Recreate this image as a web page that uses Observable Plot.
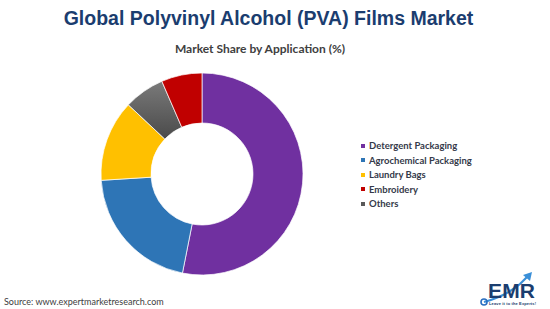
<!DOCTYPE html>
<html>
<head>
<meta charset="utf-8">
<script src="https://cdn.jsdelivr.net/npm/d3@7"></script>
<script src="https://cdn.jsdelivr.net/npm/@observablehq/plot@0.6"></script>
<style>
  html, body { margin: 0; padding: 0; background: #fff; }
  #page { position: relative; width: 550px; height: 309px; overflow: hidden; background: #fff; }
  #title { position: absolute; left: 0; width: 537px; top: 7px; text-align: center;
           font-family: "Liberation Sans", Arial, sans-serif; font-weight: bold; font-size: 19.5px; color: #1B3D6F; }
  #subtitle { position: absolute; left: 0; width: 520px; top: 41px; text-align: center;
           font-family: Lato, "Open Sans", sans-serif; font-weight: bold; font-size: 12px; color: #404040; }
  #chart { position: absolute; left: 86.5px; top: 58.5px; }
  #legend { position: absolute; left: 361px; top: 139px; font-family: Lato, "Open Sans", sans-serif;
            font-weight: bold; font-size: 9.5px; color: #353a4a; }
  .li { height: 14.5px; line-height: 14.5px; white-space: nowrap; }
  .sw { display: inline-block; width: 4px; height: 4px; margin-right: 4px; vertical-align: middle; position: relative; top: -1px; }
  #source { position: absolute; left: 4px; top: 296px; font-family: Lato, "Open Sans", sans-serif;
            font-size: 9px; color: #404040; }
  #logo { position: absolute; left: 476px; top: 270px; }
</style>
</head>
<body>
<div id="page">
  <div id="title">Global Polyvinyl Alcohol (PVA) Films Market</div>
  <div id="subtitle">Market Share by Application (%)</div>
  <div id="chart"></div>
  <div id="legend"></div>
  <div id="source">Source: www.expertmarketresearch.com</div>
  <div id="logo"></div>
</div>
<script>
// ---- data ----
const categories = ["Detergent Packaging", "Agrochemical Packaging", "Laundry Bags", "Others", "Embroidery"];
const shares = [53.1, 20.9, 13.0, 6.5, 6.5];
const colors = ["#7030A0", "#2E75B6", "#FFC000", "url(#greyGrad)", "#C00000"];
const legendOrder = ["Detergent Packaging", "Agrochemical Packaging", "Laundry Bags", "Embroidery", "Others"];
const legendColors = ["#7030A0", "#2E75B6", "#FFC000", "#C00000", "#595959"];

const slices = categories.map((c, i) => ({category: c, share: shares[i], color: colors[i]}));
const arcs = d3.pie().sort(null).value(d => d.share)(slices);

const outerR = 101, innerR = 51;

const chart = Plot.plot({
  width: 230,
  height: 230,
  margin: 0,
  x: {domain: [-115, 115], axis: null},
  y: {domain: [-115, 115], axis: null},
  marks: [
    Plot.dot(arcs, {
      x: () => 0,
      y: () => 0,
      render: (index, scales, values) => {
        const cx = values.x[index[0]], cy = values.y[index[0]];
        const ro = Math.abs(scales.x(outerR) - scales.x(0));
        const ri = Math.abs(scales.x(innerR) - scales.x(0));
        const arc = d3.arc().innerRadius(ri).outerRadius(ro);
        const g = d3.create("svg:g");
        const defs = g.append("defs");
        const lg = defs.append("linearGradient").attr("id", "greyGrad")
          .attr("x1", 0).attr("y1", 0).attr("x2", 0).attr("y2", 1);
        lg.append("stop").attr("offset", "0%").attr("stop-color", "#7a7a7a");
        lg.append("stop").attr("offset", "100%").attr("stop-color", "#4a4a4a");
        const p = g.append("g").attr("transform", `translate(${cx},${cy})`);
        p.selectAll("path").data(Array.from(index, i => arcs[i])).join("path")
          .attr("d", arc)
          .attr("fill", d => d.data.color)
          .attr("stroke", "#ffffff")
          .attr("stroke-width", 0.7);
        return g.node();
      }
    })
  ]
});
document.getElementById("chart").appendChild(chart);

// legend
const legend = document.getElementById("legend");
legendOrder.forEach((c, i) => {
  const row = document.createElement("div");
  row.className = "li";
  const sw = document.createElement("span");
  sw.className = "sw";
  sw.style.background = legendColors[i];
  row.appendChild(sw);
  row.appendChild(document.createTextNode(c));
  legend.appendChild(row);
});

// logo
const logo = d3.select("#logo").append("svg").attr("width", 74).attr("height", 39);
logo.append("path").attr("d", "M8 32 Q30 26 44 14 L52 6").attr("fill", "none").attr("stroke", "#3a8fd8").attr("stroke-width", 2.2);
logo.append("path").attr("d", "M47 5 L56 2 L54 11 Z").attr("fill", "#3a8fd8");
logo.append("circle").attr("cx", 8).attr("cy", 32).attr("r", 3).attr("fill", "none").attr("stroke", "#2a6fc0").attr("stroke-width", 1.6);
logo.append("text").attr("x", 12).attr("y", 28).attr("font-family", "Liberation Sans, Arial, sans-serif")
  .attr("font-weight", "bold").attr("font-size", 21).attr("fill", "#1B3D6F").attr("textLength", 47).text("EMR");
logo.append("text").attr("x", 13).attr("y", 34.5).attr("font-family", "Liberation Sans, Arial, sans-serif")
  .attr("font-weight", "bold").attr("font-size", 4).attr("fill", "#1B3D6F").attr("textLength", 47).text("Leave it to the Experts!");
</script>
</body>
</html>
